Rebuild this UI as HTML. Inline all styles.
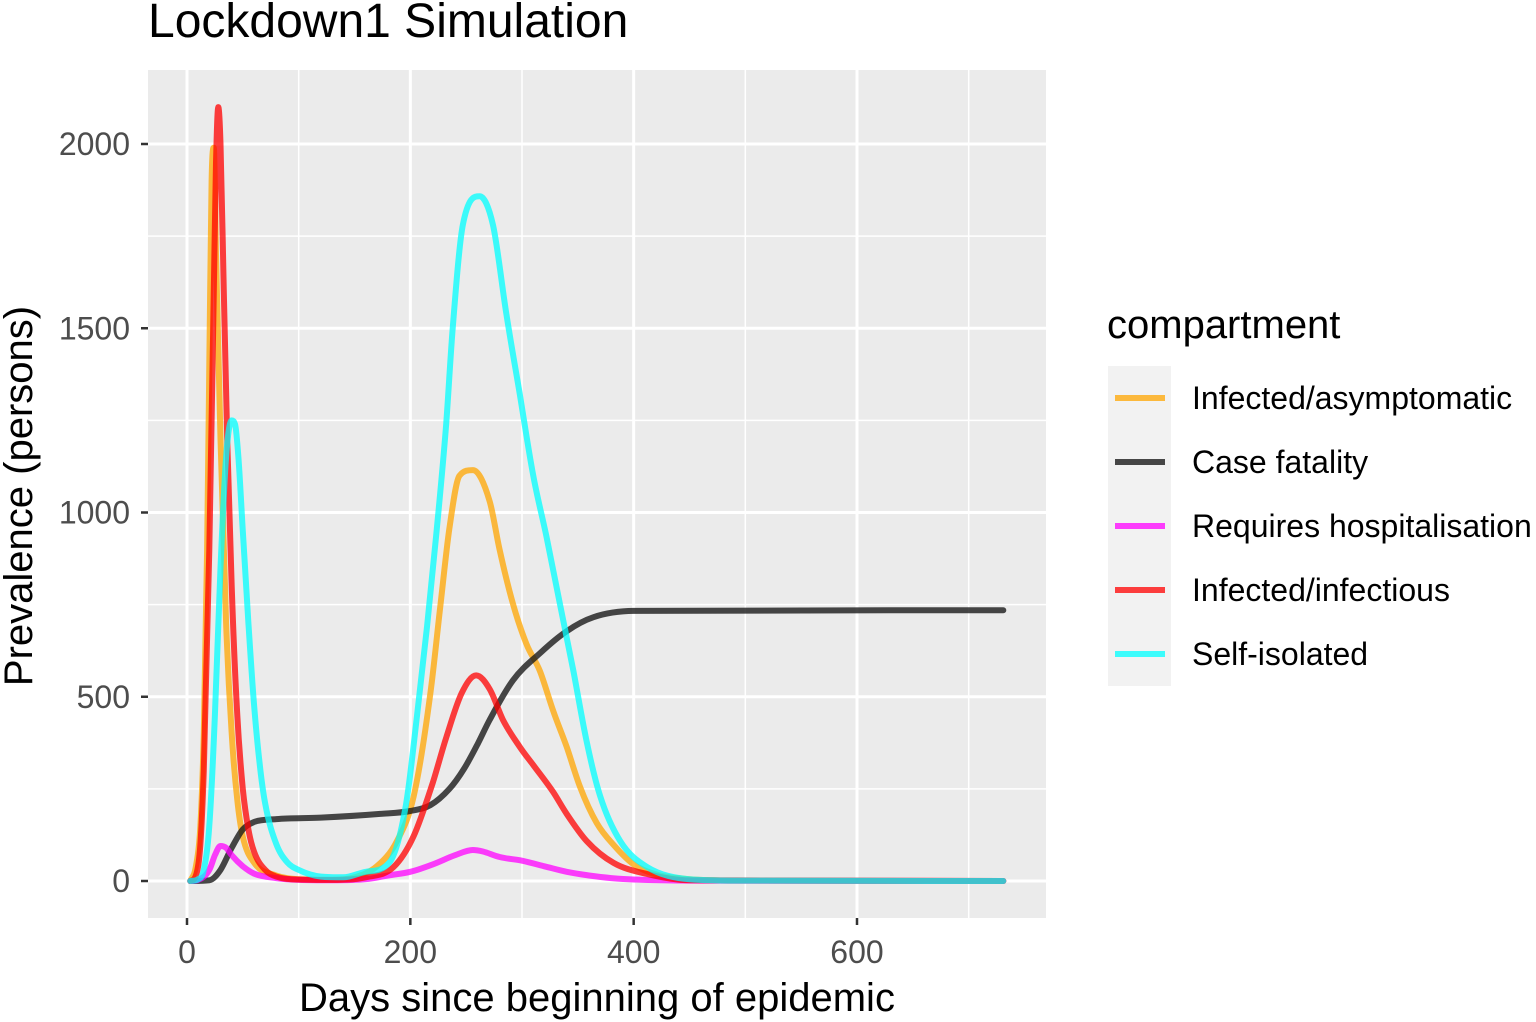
<!DOCTYPE html>
<html><head><meta charset="utf-8">
<style>
html,body{margin:0;padding:0;background:#fff;}
svg{display:block;font-family:"Liberation Sans",sans-serif;}
</style></head>
<body>
<svg id="chart" width="1536" height="1022" viewBox="0 0 1536 1022" xmlns="http://www.w3.org/2000/svg">
<text x="148" y="37" font-size="48" fill="#000">Lockdown1 Simulation</text>
<rect x="148" y="70" width="898" height="848" fill="#ebebeb"/>
<g id="grid"></g>
<g id="series"></g>
<g id="axes"></g>
<text x="597" y="1011" font-size="40" text-anchor="middle" fill="#000">Days since beginning of epidemic</text>
<text transform="translate(32,496) rotate(-90)" font-size="40" text-anchor="middle" fill="#000">Prevalence (persons)</text>
<g>
<text x="1107" y="338" font-size="40" fill="#000">compartment</text>
<rect x="1108" y="366" width="63" height="320" fill="#f2f2f2"/>
<g id="legend-entries"></g>
</g>
</svg>
<script>
const NS = "http://www.w3.org/2000/svg";
const seriesNames = ["Infected/asymptomatic","Case fatality","Requires hospitalisation","Infected/infectious","Self-isolated"];
const seriesColors = ["rgba(255,165,0,0.75)","rgba(26,26,26,0.8)","rgba(255,0,255,0.75)","rgba(255,0,0,0.75)","rgba(0,255,255,0.75)"];
const xTicks = [0,200,400,600];
const yTicks = [0,500,1000,1500,2000];
const asymDays = [3,8,12,15,18,20,22,24,26,30,35,40,45,50,60,80,100,130,150,170,188,203,218,227,235,244,256,271,280,292,304,316,328,340,352,367,382,400,420,450,500,731];
const asymVals = [0,40,150,400,900,1400,1900,1990,1700,1200,700,400,220,120,50,15,5,3,10,40,108,230,510,750,957,1100,1115,1031,898,751,643,570,461,364,255,157,98,45,18,5,1,0];
const fatalDays = [3,20,30,40,50,60,80,120,173,200,218,235,248,260,271,292,316,340,364,400,731];
const fatalVals = [0,2,30,90,140,160,168,172,182,190,206,250,304,370,437,545,618,678,716,733,735];
const hospDays = [3,10,20,25,30,35,40,50,60,80,100,130,160,180,200,220,240,256,265,280,300,320,340,360,380,400,450,731];
const hospVals = [0,3,30,70,95,90,70,40,20,8,3,2,5,15,25,45,70,84,80,65,55,40,25,15,8,4,1,0];
const infDays = [3,8,12,15,20,24,26,28,30,33,36,40,45,50,55,60,70,80,100,130,160,185,203,220,232,246,259,271,283,298,310,328,340,358,382,412,450,731];
const infVals = [0,15,100,300,900,1600,1950,2100,2000,1600,1200,800,450,250,140,80,30,12,4,3,10,38,122,266,388,510,558,521,437,364,315,241,182,108,49,19,2,0];
const isoDays = [3,10,15,20,25,30,35,40,43,46,50,55,60,65,70,80,90,100,120,140,160,181,196,206,215,223,232,238,247,262,274,286,298,310,322,334,346,358,370,388,412,450,500,731];
const isoVals = [0,5,30,150,450,850,1150,1250,1240,1150,950,700,480,320,210,100,50,30,12,10,25,49,206,448,692,933,1237,1503,1780,1858,1780,1538,1321,1101,933,751,570,377,230,108,38,5,1,0];
const seriesDays = [asymDays,fatalDays,hospDays,infDays,isoDays];
const seriesVals = [asymVals,fatalVals,hospVals,infVals,isoVals];

const X0 = 187, XS = (857-187)/600;
const Y0 = 881, YS = (881-144)/2000;
function xScale(d){ return X0 + d*XS; }
function yScale(v){ return Y0 - v*YS; }

function monoPath(xs, ys){
  const n = xs.length, d = [], m = [];
  for(let i=0;i<n-1;i++) d.push((ys[i+1]-ys[i])/(xs[i+1]-xs[i]));
  m[0]=d[0]; m[n-1]=d[n-2];
  for(let i=1;i<n-1;i++){ m[i] = (d[i-1]*d[i]<=0)?0:(d[i-1]+d[i])/2; }
  for(let i=0;i<n-1;i++){
    if(d[i]===0){ m[i]=0; m[i+1]=0; continue; }
    const a=m[i]/d[i], b=m[i+1]/d[i], s=a*a+b*b;
    if(s>9){ const t=3/Math.sqrt(s); m[i]=t*a*d[i]; m[i+1]=t*b*d[i]; }
  }
  let p = 'M'+xs[0].toFixed(1)+','+ys[0].toFixed(1);
  for(let i=0;i<n-1;i++){
    const h=(xs[i+1]-xs[i])/3;
    p += ' C'+(xs[i]+h).toFixed(1)+','+(ys[i]+m[i]*h).toFixed(1)+' '+(xs[i+1]-h).toFixed(1)+','+(ys[i+1]-m[i+1]*h).toFixed(1)+' '+xs[i+1].toFixed(1)+','+ys[i+1].toFixed(1);
  }
  return p;
}

const grid = document.getElementById('grid');
function gline(x1,y1,x2,y2,w,name){
  const l = document.createElementNS(NS,'line');
  l.setAttribute('x1',x1);l.setAttribute('y1',y1);l.setAttribute('x2',x2);l.setAttribute('y2',y2);
  l.setAttribute('stroke','#fff');l.setAttribute('stroke-width',w);
  
  
  grid.appendChild(l);
}
[100,300,500,700].forEach(d=>gline(xScale(d),70,xScale(d),918,1.5,'x-minor-gridline'));
[250,750,1250,1750].forEach(v=>gline(148,yScale(v),1046,yScale(v),1.5,'y-minor-gridline'));
xTicks.forEach(d=>gline(xScale(d),70,xScale(d),918,3,'x-major-gridline'));
yTicks.forEach(v=>gline(148,yScale(v),1046,yScale(v),3,'y-major-gridline'));

const axes = document.getElementById('axes');
xTicks.forEach(d=>{
  const t = document.createElementNS(NS,'line');
  t.setAttribute('x1',xScale(d));t.setAttribute('x2',xScale(d));t.setAttribute('y1',918);t.setAttribute('y2',925);
  t.setAttribute('stroke','#333');t.setAttribute('stroke-width',2.5);
  
  
  axes.appendChild(t);
  const s = document.createElementNS(NS,'text');
  s.setAttribute('x',xScale(d));s.setAttribute('y',963);s.setAttribute('font-size','32');
  s.setAttribute('text-anchor','middle');s.setAttribute('fill','#4d4d4d');
  s.textContent = d;
  
  
  axes.appendChild(s);
});
yTicks.forEach(v=>{
  const t = document.createElementNS(NS,'line');
  t.setAttribute('x1',141);t.setAttribute('x2',148);t.setAttribute('y1',yScale(v));t.setAttribute('y2',yScale(v));
  t.setAttribute('stroke','#333');t.setAttribute('stroke-width',2.5);
  
  
  axes.appendChild(t);
  const s = document.createElementNS(NS,'text');
  s.setAttribute('x',130);s.setAttribute('y',yScale(v)+11);s.setAttribute('font-size','32');
  s.setAttribute('text-anchor','end');s.setAttribute('fill','#4d4d4d');
  s.textContent = v;
  
  
  axes.appendChild(s);
});

const sg = document.getElementById('series');
const slugs = ['asymptomatic','case-fatality','hospitalisation','infectious','self-isolated'];
seriesNames.forEach((n,i)=>{
  const xs = seriesDays[i].map(xScale);
  const ys = seriesVals[i].map(yScale);
  const p = document.createElementNS(NS,'path');
  p.setAttribute('d',monoPath(xs,ys));p.setAttribute('fill','none');
  p.setAttribute('stroke',seriesColors[i]);p.setAttribute('stroke-width',6);
  p.setAttribute('stroke-linejoin','round');p.setAttribute('stroke-linecap','round');
  
  
  sg.appendChild(p);
});

const lg = document.getElementById('legend-entries');
seriesNames.forEach((n,i)=>{
  const y = 398 + i*64;
  const g = document.createElementNS(NS,'g');
  
  
  const l = document.createElementNS(NS,'line');
  l.setAttribute('x1',1115);l.setAttribute('x2',1165);l.setAttribute('y1',y);l.setAttribute('y2',y);
  l.setAttribute('stroke',seriesColors[i]);l.setAttribute('stroke-width',6);
  
  
  g.appendChild(l);
  const t = document.createElementNS(NS,'text');
  t.setAttribute('x',1192);t.setAttribute('y',y+11);t.setAttribute('font-size','32');t.setAttribute('fill','#000');
  t.textContent = n;
  
  
  g.appendChild(t);
  lg.appendChild(g);
});
</script>
</body></html>
